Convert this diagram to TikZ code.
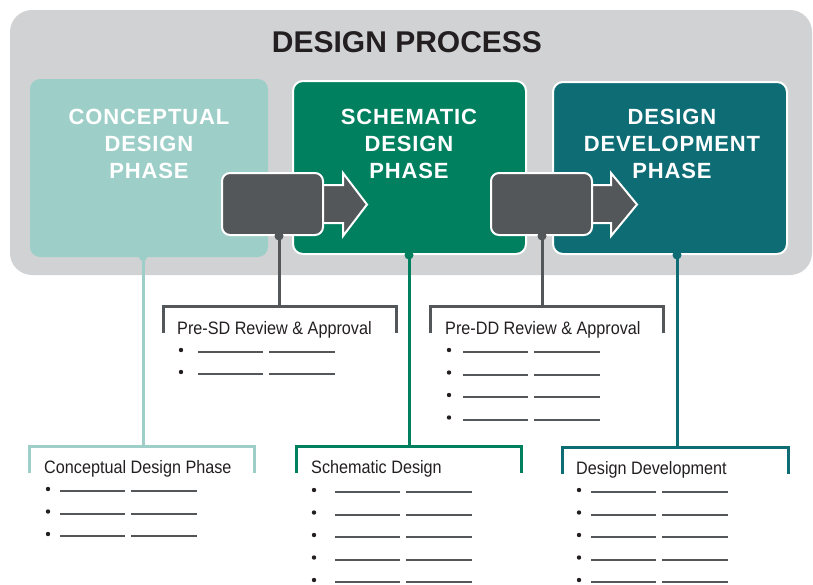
\documentclass[tikz,border=0pt]{standalone}
\usepackage{fontspec}
\setmainfont{Liberation Sans}
\newfontfamily\phasefont[LetterSpace=4]{Liberation Sans}
\newfontfamily\labfont[FakeStretch=0.9]{Liberation Sans}
\definecolor{bggray}{HTML}{D1D2D4}
\definecolor{cdcol}{HTML}{9DCFC8}
\definecolor{sdcol}{HTML}{00805F}
\definecolor{ddcol}{HTML}{0E6C74}
\definecolor{dgray}{HTML}{54575A}
\definecolor{inkcol}{HTML}{231F20}
\newcommand\blist[5]{% bullet x, line x, first y, count, step
  \foreach \i in {1,...,#4}{%
    \fill[inkcol] (#1,{#3+(\i-1)*#5}) circle (2.2);
    \draw[blankline] (#2,{#3+2+(\i-1)*#5}) -- ++(65,0);
    \draw[blankline] ({#2+71},{#3+2+(\i-1)*#5}) -- ++(66,0);
  }}
\begin{document}
\begin{tikzpicture}[x=1pt,y=-1pt,
  phasebox/.style={rectangle, rounded corners=10, inner sep=0},
  graybox/.style={rectangle, rounded corners=8, fill=dgray, draw=white, line width=2, minimum width=101, minimum height=62, inner sep=0},
  phasetitle/.style={font=\phasefont\bfseries\fontsize{22}{27}\selectfont, text=white, align=center, inner sep=0},
  labeltext/.style={font=\labfont\fontsize{18}{20}\selectfont, text=inkcol, anchor=base west, inner sep=0},
  bracket/.style={line width=3},
  conn/.style={line width=3},
  blankline/.style={draw=dgray, line width=2},
  arrowshape/.style={fill=dgray, draw=white, line width=2, line join=miter}
]
\useasboundingbox (0,0) rectangle (813,584);
% background
\fill[bggray, rounded corners=22] (10,10) rectangle (812,275);
\node[font=\bfseries\fontsize{30}{36}\selectfont, text=inkcol, inner sep=0] (title) at (407,42) {DESIGN PROCESS};
% phase boxes
\node[phasebox, fill=cdcol, minimum width=238, minimum height=178] (cd) at (149,168) {};
\node[phasebox, fill=sdcol, draw=white, line width=2, minimum width=233, minimum height=173] (sd) at (409.5,167.5) {};
\node[phasebox, fill=ddcol, draw=white, line width=2, minimum width=234, minimum height=172] (dd) at (670,168) {};
\node[phasetitle] (cdt) at (149,144) {CONCEPTUAL\\DESIGN\\PHASE};
\node[phasetitle] (sdt) at (409,143.5) {SCHEMATIC\\DESIGN\\PHASE};
\node[phasetitle] (ddt) at (672,143.5) {DESIGN\\DEVELOPMENT\\PHASE};
% arrows
\draw[arrowshape] (318,185) -- (343,185) -- (343,173) -- (367,204.5) -- (343,236) -- (343,223) -- (318,223) -- cycle;
\draw[arrowshape] (587,185) -- (611,185) -- (611,173) -- (637,204.5) -- (611,236) -- (611,223) -- (587,223) -- cycle;
\node[graybox] (g1) at (272.5,204) {};
\node[graybox] (g2) at (541.5,204) {};
% bracket tops
\coordinate (psd) at (279,306);
\coordinate (pdd) at (542,306);
\coordinate (cdb) at (143,446);
\coordinate (sdb) at (409,446);
\coordinate (ddb) at (677,447);
% brackets
\draw[bracket, dgray] (163,333) |- (psd) -| (396,333);
\draw[bracket, dgray] (430,333) |- (pdd) -| (663,333);
\draw[bracket, cdcol] (29,473) |- (cdb) -| (254,473);
\draw[bracket, sdcol] (296,473) |- (sdb) -| (521,473);
\draw[bracket, ddcol] (562,474) |- (ddb) -| (788,474);
% connectors
\draw[conn, dgray] (g1.south -| psd) -- (psd);
\fill[dgray] (g1.south -| psd) circle (4.5);
\draw[conn, dgray] (g2.south -| pdd) -- (pdd);
\fill[dgray] (g2.south -| pdd) circle (4.5);
\draw[conn, cdcol] (cd.south -| cdb) -- (cdb);
\fill[cdcol] (cd.south -| cdb) circle (4);
\draw[conn, sdcol] (sd.south -| sdb) -- (sdb);
\fill[sdcol] (sd.south -| sdb) circle (4.5);
\draw[conn, ddcol] (dd.south -| ddb) -- (ddb);
\fill[ddcol] (dd.south -| ddb) circle (4.5);
% labels
\node[labeltext] (psdl) at (177,334) {Pre-SD Review \& Approval};
\node[labeltext] (pddl) at (445,334) {Pre-DD Review \& Approval};
\node[labeltext] (cdl) at (44,473) {Conceptual Design Phase};
\node[labeltext] (sdl) at (311,473) {Schematic Design};
\node[labeltext] (ddl) at (576,474) {Design Development};
% bullet lists
\blist{181}{198}{350}{2}{22}
\blist{449}{463}{350}{4}{22.5}
\blist{48}{60}{489}{3}{22.5}
\blist{314}{335}{490}{5}{22.5}
\blist{579}{591}{490}{5}{22.5}
\end{tikzpicture}
\end{document}
